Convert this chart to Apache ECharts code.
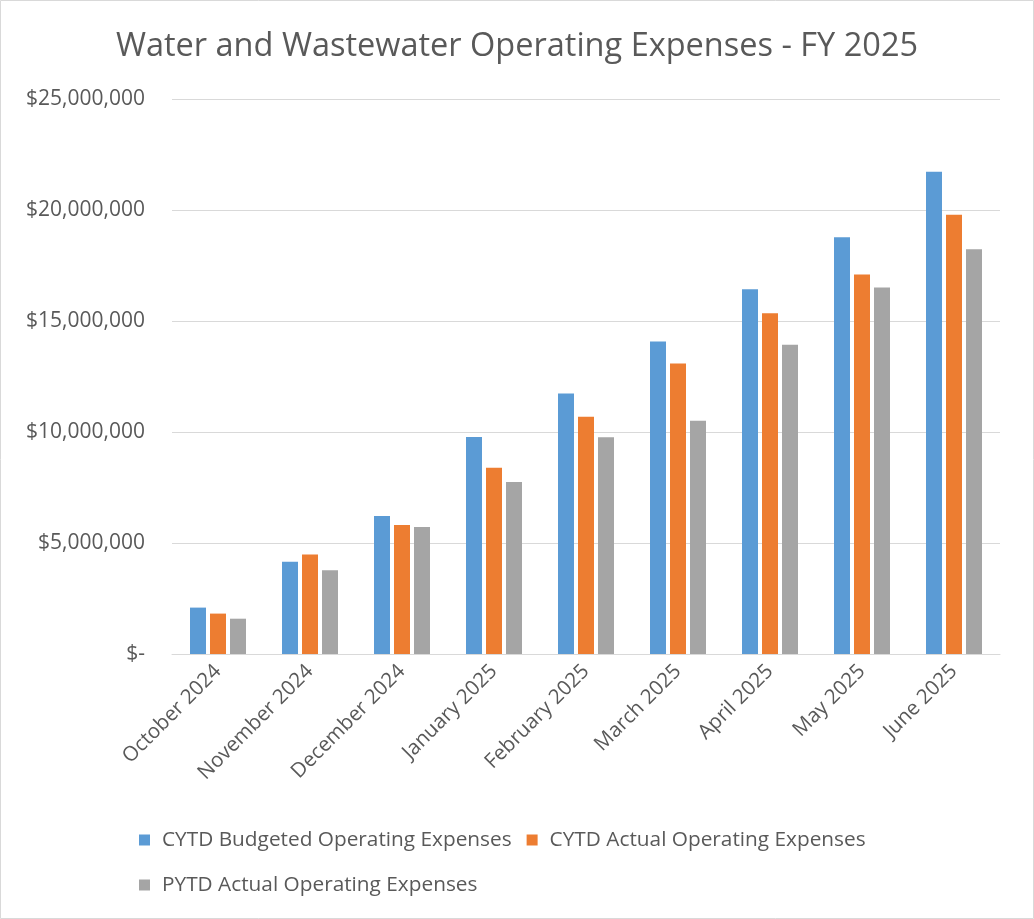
<!DOCTYPE html>
<html>
<head>
<meta charset="utf-8">
<script src="https://cdn.jsdelivr.net/npm/echarts@6/dist/echarts.min.js"></script>
<style>
html,body{margin:0;padding:0;background:#fff;}
#c{width:1034px;height:919px;}
</style>
</head>
<body>
<div id="c"></div>
<script>
const categories = ["October 2024","November 2024","December 2024","January 2025","February 2025","March 2025","April 2025","May 2025","June 2025"];
const budgeted = [2090000, 4150000, 6220000, 9770000, 11730000, 14080000, 16430000, 18770000, 21720000];
const actual   = [1820000, 4480000, 5810000, 8390000, 10690000, 13090000, 15350000, 17100000, 19790000];
const prior    = [1590000, 3770000, 5720000, 7750000, 9760000, 10510000, 13930000, 16510000, 18230000];
const seriesNames = ["CYTD Budgeted Operating Expenses","CYTD Actual Operating Expenses","PYTD Actual Operating Expenses"];
const yTicks = {min:0, max:25000000, interval:5000000};

const FONT = '"Open Sans", "Noto Sans", sans-serif';
const chart = echarts.init(document.getElementById('c'));
function fmt(v){
  if (v === 0) return '$-';
  return '$' + v.toLocaleString('en-US');
}
const colors = ['#5b9bd5','#ed7d31','#a5a5a5'];
const data = [budgeted, actual, prior];
chart.setOption({
  animation:false,
  backgroundColor:'#fff',
  title:{
    text:'Water and Wastewater Operating Expenses - FY 2025',
    left:'center', top:25,
    textStyle:{fontFamily:FONT, fontSize:32.5, fontWeight:'normal', color:'#595959'}
  },
  graphic:[{type:'rect', shape:{x:0.5,y:0.5,width:1033,height:918}, style:{fill:'none', stroke:'#d9d9d9', lineWidth:1}, silent:true}],
  grid:{left:172, right:34, top:99, bottom:265, containLabel:false},
  legend:{
    left:134, top:820, width:790,
    itemWidth:11, itemHeight:11, itemGap:15,
    icon:'rect',
    textStyle:{fontFamily:FONT, fontSize:20.8, lineHeight:30, color:'#595959', padding:[0,0,0,7]},
    data:seriesNames
  },
  xAxis:{
    type:'category', data:categories,
    axisLine:{lineStyle:{color:'#d9d9d9', width:1}},
    axisTick:{show:false},
    axisLabel:{rotate:45, interval:0, margin:14, fontFamily:FONT, fontSize:20.5, color:'#595959'}
  },
  yAxis:{
    type:'value', min:yTicks.min, max:yTicks.max, interval:yTicks.interval,
    axisLine:{show:false}, axisTick:{show:false},
    splitLine:{lineStyle:{color:'#d9d9d9', width:1}},
    axisLabel:{formatter:fmt, margin:27, fontFamily:FONT, fontSize:21, color:'#595959'}
  },
  series: seriesNames.map((n,i)=>({
    name:n, type:'bar', data:data[i],
    barWidth:16, barGap:'25%', barCategoryGap:'39%',
    itemStyle:{color:colors[i]}
  }))
});
</script>
</body>
</html>
